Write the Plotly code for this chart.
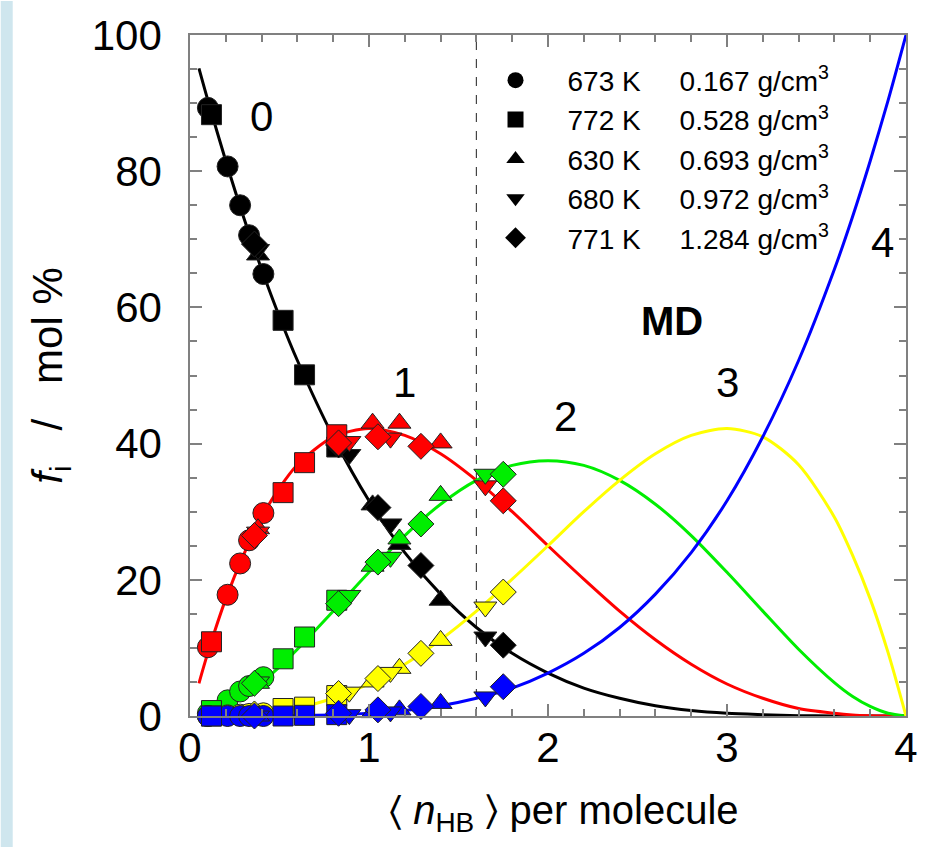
import plotly.graph_objects as go

# ---------------- data ----------------
# model curves f_i (mol %) vs <n_HB>
curve_x = [0.05, 0.1, 0.2, 0.3, 0.4, 0.5, 0.6, 0.8, 1.0, 1.2, 1.4, 1.6, 1.8, 2.0,
           2.2, 2.4, 2.6, 2.8, 3.0, 3.2, 3.4, 3.6, 3.7, 3.8, 3.9, 4.0]
curve_f0 = [95.1, 90.4, 81.5, 73.2, 65.6, 58.6, 52.2, 41.0, 31.6, 24.0, 17.9, 13.0, 9.2, 6.3,
            4.1, 2.6, 1.5, 0.8, 0.4, 0.2, 0.05, 0.01, 0.0, 0.0, 0.0, 0.0]
curve_f1 = [4.8, 9.3, 17.2, 23.7, 29.2, 33.5, 36.9, 41.0, 42.2, 41.2, 38.5, 34.6, 30.0, 25.0,
            20.1, 15.4, 11.2, 7.6, 4.7, 2.6, 1.1, 0.4, 0.16, 0.05, 0.01, 0.0]
curve_f2 = [0.1, 0.4, 1.4, 2.9, 4.9, 7.2, 9.8, 15.4, 21.1, 26.5, 31.1, 34.6, 36.8, 37.5,
            36.8, 34.6, 31.1, 26.5, 21.1, 15.4, 9.8, 4.9, 2.9, 1.4, 0.4, 0.0]
curve_f3 = [0.0, 0.0, 0.05, 0.16, 0.36, 0.68, 1.15, 2.6, 4.7, 7.6, 11.2, 15.4, 20.1, 25.0,
            30.0, 34.6, 38.5, 41.2, 42.2, 41.0, 36.9, 29.2, 23.7, 17.2, 9.3, 0.0]
curve_f4 = [0.0, 0.0, 0.0, 0.0, 0.01, 0.02, 0.05, 0.16, 0.39, 0.81, 1.5, 2.6, 4.1, 6.3,
            9.2, 13.0, 17.9, 24.0, 31.6, 41.0, 52.2, 65.6, 73.2, 81.5, 90.4, 100.0]

# MD state points
circle_x = [0.10, 0.21, 0.28, 0.33, 0.41]
circle_f0 = [89.3, 80.7, 75.0, 70.6, 64.9]
circle_f1 = [10.1, 17.8, 22.4, 25.8, 29.8]
circle_f2 = [0.4, 2.3, 3.6, 4.4, 5.7]
circle_f3 = [0.0, 0.1, 0.2, 0.3, 0.4]
circle_f4 = [0.0, 0.0, 0.0, 0.0, 0.0]

square_x = [0.12, 0.52, 0.64, 0.82]
square_f0 = [88.3, 58.1, 50.1, 39.5]
square_f1 = [10.9, 32.8, 37.2, 41.3]
square_f2 = [0.8, 8.4, 11.6, 17.0]
square_f3 = [0.0, 1.1, 1.3, 3.0]
square_f4 = [0.0, 0.0, 0.1, 0.2]

triup_x = [0.38, 1.02, 1.17, 1.40]
triup_f0 = [67.7, 31.0, 25.2, 17.0]
triup_f1 = [27.5, 43.0, 43.0, 40.1]
triup_f2 = [4.8, 22.0, 26.0, 32.4]
triup_f3 = [0.3, 5.0, 7.0, 11.1]
triup_f4 = [0.0, 0.5, 0.9, 1.85]

tridown_x = [0.38, 0.89, 1.12, 1.65]
tridown_f0 = [68.5, 38.4, 28.2, 11.6]
tridown_f1 = [27.0, 40.3, 40.8, 33.8]
tridown_f2 = [5.0, 17.7, 23.3, 35.5]
tridown_f3 = [0.3, 3.5, 6.4, 16.0]
tridown_f4 = [0.0, 0.2, 0.6, 2.8]

diamond_x = [0.36, 0.83, 1.05, 1.29, 1.75]
diamond_f0 = [69.3, 39.8, 30.6, 22.1, 10.4]
diamond_f1 = [26.5, 40.1, 41.0, 39.6, 31.6]
diamond_f2 = [4.8, 16.5, 22.6, 28.2, 35.5]
diamond_f3 = [0.3, 3.3, 5.5, 9.2, 18.2]
diamond_f4 = [0.0, 0.4, 0.9, 1.4, 4.3]

legend_labels = ["673 K", "772 K", "630 K", "680 K", "771 K"]
legend_density = ["0.167", "0.528", "0.693", "0.972", "1.284"]
curve_labels = ["0", "1", "2", "3", "4"]
curve_label_x = [0.40, 1.20, 2.10, 3.00, 3.87]
curve_label_y = [88.0, 49.0, 44.0, 49.0, 69.5]
boundary_x = 1.6

# ---------------- style ----------------
colors = ["#000000", "#ff0000", "#00ee00", "#ffff00", "#0000ff"]
FONT = "Liberation Sans, Arial, sans-serif"
NB = "\u00a0"

datasets = [
    ("circle", 21, circle_x, [circle_f0, circle_f1, circle_f2, circle_f3, circle_f4]),
    ("square", 20, square_x, [square_f0, square_f1, square_f2, square_f3, square_f4]),
    ("triangle-up", 20, triup_x, [triup_f0, triup_f1, triup_f2, triup_f3, triup_f4]),
    ("triangle-down", 20, tridown_x, [tridown_f0, tridown_f1, tridown_f2, tridown_f3, tridown_f4]),
    ("diamond", 20, diamond_x, [diamond_f0, diamond_f1, diamond_f2, diamond_f3, diamond_f4]),
]
curves = [curve_f0, curve_f1, curve_f2, curve_f3, curve_f4]

fig = go.Figure()

# curves
for i, cy in enumerate(curves):
    fig.add_trace(go.Scatter(
        x=curve_x, y=cy, mode="lines",
        line=dict(color=colors[i], width=3, shape="spline", smoothing=0.8),
        showlegend=False, hoverinfo="skip"))

# points, drawn colour by colour (black first, blue on top)
for i in range(5):
    for sym, size, xs, fs in datasets:
        fig.add_trace(go.Scatter(
            x=xs, y=fs[i], mode="markers",
            marker=dict(symbol=sym, size=size, color=colors[i],
                        line=dict(color="#222222", width=1)),
            cliponaxis=False, showlegend=False))

# legend entries (black symbols)
for k, (sym, size, xs, fs) in enumerate(datasets):
    fig.add_trace(go.Scatter(
        x=[None], y=[None], mode="markers",
        marker=dict(symbol=sym, size=size, color="#000000"),
        name=legend_labels[k] + NB * 5 + legend_density[k] + " g/cm<sup>3</sup>",
        legendgroup=str(k), showlegend=True))

annotations = []
for lab, lx, ly in zip(curve_labels, curve_label_x, curve_label_y):
    annotations.append(dict(x=lx, y=ly, xref="x", yref="y", text=lab, showarrow=False,
                            font=dict(family=FONT, size=42, color="#000000")))
annotations.append(dict(x=2.69, y=58.0, xref="x", yref="y", text="<b>MD</b>", showarrow=False,
                        font=dict(family=FONT, size=40, color="#000000")))
# x-axis title
annotations.append(dict(x=0.523, y=-0.142, xref="paper", yref="paper", xanchor="center",
                        yanchor="middle", showarrow=False,
                        text="\u2329 <i>n</i><sub>HB</sub> \u232a per molecule",
                        font=dict(family=FONT, size=40, color="#000000")))

shapes = [
    dict(type="line", xref="x", yref="y", x0=boundary_x, x1=boundary_x, y0=0, y1=100,
         line=dict(color="#444444", width=1.2, dash="dash"), layer="below"),
    dict(type="rect", xref="paper", yref="paper", x0=-0.2643, x1=-0.2476, y0=-0.2, y1=1.05,
         fillcolor="#cfe6ee", line=dict(width=0), layer="below"),
]

axis_common = dict(
    showline=True, linecolor="#808080", linewidth=1.5, mirror="ticks",
    ticks="inside", ticklen=12, tickwidth=1.5, tickcolor="#808080",
    showgrid=False, zeroline=False,
    tickfont=dict(family=FONT, size=42, color="#000000"),
)

fig.update_layout(
    width=930, height=847,
    margin=dict(l=190, r=21, t=31, b=131),
    paper_bgcolor="#ffffff", plot_bgcolor="#ffffff",
    font=dict(family=FONT, color="#000000"),
    xaxis=dict(range=[0, 4], dtick=1, tick0=0, ticklabelstandoff=-6,
               minor=dict(dtick=0.2, ticks="inside", ticklen=7, tickcolor="#808080", tickwidth=1.5),
               **axis_common),
    yaxis=dict(range=[0, 100], dtick=20, tick0=0, ticklabelstandoff=18,
               minor=dict(dtick=5, ticks="inside", ticklen=7, tickcolor="#808080", tickwidth=1.5),
               title=dict(text="<i>f</i><sub>i</sub>" + NB * 3 + "/" + NB * 3 + "mol %",
                          font=dict(family=FONT, size=42), standoff=16),
               **axis_common),
    legend=dict(x=0.382, y=0.97, xanchor="left", yanchor="top",
                bgcolor="rgba(0,0,0,0)", font=dict(family=FONT, size=28),
                itemwidth=94, tracegroupgap=6, traceorder="normal"),
    annotations=annotations,
    shapes=shapes,
)

fig.write_html("out.html")
